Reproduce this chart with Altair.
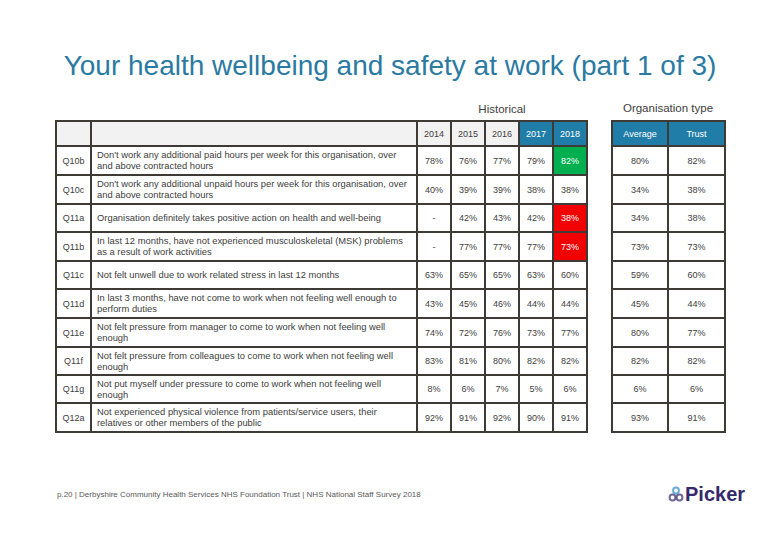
import altair as alt
import pandas as pd

# ---------------- data ----------------
codes = ["Q10b", "Q10c", "Q11a", "Q11b", "Q11c", "Q11d", "Q11e", "Q11f", "Q11g", "Q12a"]
questions = [
    "Don't work any additional paid hours per week for this organisation, over\nand above contracted hours",
    "Don't work any additional unpaid hours per week for this organisation, over\nand above contracted hours",
    "Organisation definitely takes positive action on health and well-being",
    "In last 12 months, have not experienced musculoskeletal (MSK) problems\nas a result of work activities",
    "Not felt unwell due to work related stress in last 12 months",
    "In last 3 months, have not come to work when not feeling well enough to\nperform duties",
    "Not felt pressure from manager to come to work when not feeling well\nenough",
    "Not felt pressure from colleagues to come to work when not feeling well\nenough",
    "Not put myself under pressure to come to work when not feeling well\nenough",
    "Not experienced physical violence from patients/service users, their\nrelatives or other members of the public",
]
years = ["2014", "2015", "2016", "2017", "2018"]
v2014 = ["78%", "40%", "-", "-", "63%", "43%", "74%", "83%", "8%", "92%"]
v2015 = ["76%", "39%", "42%", "77%", "65%", "45%", "72%", "81%", "6%", "91%"]
v2016 = ["77%", "39%", "43%", "77%", "65%", "46%", "76%", "80%", "7%", "92%"]
v2017 = ["79%", "38%", "42%", "77%", "63%", "44%", "73%", "82%", "5%", "90%"]
v2018 = ["82%", "38%", "38%", "73%", "60%", "44%", "77%", "82%", "6%", "91%"]
org_types = ["Average", "Trust"]
v_average = ["80%", "34%", "34%", "73%", "59%", "45%", "80%", "82%", "6%", "93%"]
v_trust = ["82%", "38%", "38%", "73%", "60%", "44%", "77%", "82%", "6%", "91%"]
change_2018 = ["better", "", "worse", "worse", "", "", "", "", "", ""]

title_text = "Your health wellbeing and safety at work (part 1 of 3)"
group_labels = ["Historical", "Organisation type"]
footer_text = "p.20 | Derbyshire Community Health Services NHS Foundation Trust | NHS National Staff Survey 2018"
logo_text = "Picker"

# ---------------- layout (page pixel coordinates) ----------------
t1_edges = [56, 91, 417, 451, 485, 519, 553, 587]
t2_edges = [612, 668, 725]
row_edges = [121, 146, 175, 204, 232, 261, 289, 318, 347, 375, 403, 432]
LINE_H = 11

GREY_HDR = "#F2F2F2"
BLUE_HDR = "#1F7DA8"
GREEN = "#00B050"
RED = "#F20000"
BORDER = "#3E3A35"
TXT = "#404040"

cells = []
texts = []

def add(x0, x1, y0, y1, fill, text, tcolor, align="center", tx=None):
    cells.append(dict(x=x0, x2=x1, y=y0, y2=y1, fill=fill))
    lines = text.split("\n") if text else []
    n = len(lines)
    for k, ln in enumerate(lines):
        texts.append(dict(text=ln, tcolor=tcolor, align=align,
                          tx=(x0 + x1) / 2 if tx is None else tx,
                          ty=(y0 + y1) / 2 + (k - (n - 1) / 2) * LINE_H))

# header row
h0, h1 = row_edges[0], row_edges[1]
add(t1_edges[0], t1_edges[1], h0, h1, GREY_HDR, "", TXT)
add(t1_edges[1], t1_edges[2], h0, h1, GREY_HDR, "", TXT)
for i, yr in enumerate(years):
    fill = BLUE_HDR if yr in ("2017", "2018") else GREY_HDR
    col = "white" if yr in ("2017", "2018") else TXT
    add(t1_edges[2 + i], t1_edges[3 + i], h0, h1, fill, yr, col)
for i, o in enumerate(org_types):
    add(t2_edges[i], t2_edges[i + 1], h0, h1, BLUE_HDR, o, "white")

year_vals = [v2014, v2015, v2016, v2017, v2018]
org_vals = [v_average, v_trust]
for r in range(len(codes)):
    y0, y1 = row_edges[r + 1], row_edges[r + 2]
    add(t1_edges[0], t1_edges[1], y0, y1, "white", codes[r], TXT)
    add(t1_edges[1], t1_edges[2], y0, y1, "white", questions[r], TXT, align="left", tx=t1_edges[1] + 6)
    for i in range(5):
        fill, col = "white", TXT
        if i == 4 and change_2018[r] == "better":
            fill, col = GREEN, "white"
        elif i == 4 and change_2018[r] == "worse":
            fill, col = RED, "white"
        add(t1_edges[2 + i], t1_edges[3 + i], y0, y1, fill, year_vals[i][r], col)
    for i in range(2):
        add(t2_edges[i], t2_edges[i + 1], y0, y1, "white", org_vals[i][r], TXT)

df = pd.DataFrame(cells)
tf = pd.DataFrame(texts)

W, H = 764, 520
xs = alt.Scale(domain=[8, 8 + W], nice=False, zero=False)
ys = alt.Scale(domain=[8, 8 + H], nice=False, zero=False, reverse=True)

rects = alt.Chart(df).mark_rect(stroke=BORDER, strokeWidth=2).encode(
    x=alt.X("x:Q", scale=xs, axis=None),
    x2="x2:Q",
    y=alt.Y("y:Q", scale=ys, axis=None),
    y2="y2:Q",
    fill=alt.Fill("fill:N", scale=None),
)

font = "Liberation Sans"
txt_c = alt.Chart(tf[tf["align"] == "center"]).mark_text(
    font=font, fontSize=9, align="center", baseline="middle"
).encode(
    x=alt.X("tx:Q", scale=xs, axis=None),
    y=alt.Y("ty:Q", scale=ys, axis=None),
    text="text:N",
    color=alt.Color("tcolor:N", scale=None),
)
txt_l = alt.Chart(tf[tf["align"] == "left"]).mark_text(
    font=font, fontSize=9.4, align="left", baseline="middle"
).encode(
    x=alt.X("tx:Q", scale=xs, axis=None),
    y=alt.Y("ty:Q", scale=ys, axis=None),
    text="text:N",
    color=alt.Color("tcolor:N", scale=None),
)

labels = pd.DataFrame({
    "text": [title_text, group_labels[0], group_labels[1], footer_text, logo_text],
    "x": [390, 502, 668, 57, 685],
    "y": [67, 110, 109, 495, 495],
    "size": [28, 11.5, 11.5, 8.0, 20],
    "align": ["center", "center", "center", "left", "left"],
    "weight": ["normal", "normal", "normal", "normal", "bold"],
    "color": ["#2B7AA1", TXT, TXT, "#595959", "#35296B"],
})

def label_layer(row):
    d = labels.iloc[[row]]
    return alt.Chart(d).mark_text(
        font=font, fontSize=float(d["size"].iloc[0]), align=d["align"].iloc[0],
        baseline="middle", fontWeight=d["weight"].iloc[0],
    ).encode(
        x=alt.X("x:Q", scale=xs, axis=None),
        y=alt.Y("y:Q", scale=ys, axis=None),
        text="text:N",
        color=alt.Color("color:N", scale=None),
    )

label_layers = [label_layer(i) for i in range(len(labels))]

logo = pd.DataFrame({
    "x": [676, 672.5, 679.5],
    "y": [490.5, 497.5, 497.5],
    "color": ["#2D8BCB", "#35296B", "#35296B"],
})
logo_layer = alt.Chart(logo).mark_point(shape="circle", filled=False, strokeWidth=2, size=34).encode(
    x=alt.X("x:Q", scale=xs, axis=None),
    y=alt.Y("y:Q", scale=ys, axis=None),
    color=alt.Color("color:N", scale=None),
)

chart = alt.layer(rects, txt_c, txt_l, *label_layers, logo_layer).properties(
    width=W, height=H, padding=0, autosize=alt.AutoSizeParams(type="none"),
    background="white",
).configure_view(stroke=None)

chart.save("out.html", embed_options={"renderer": "svg", "actions": False})
